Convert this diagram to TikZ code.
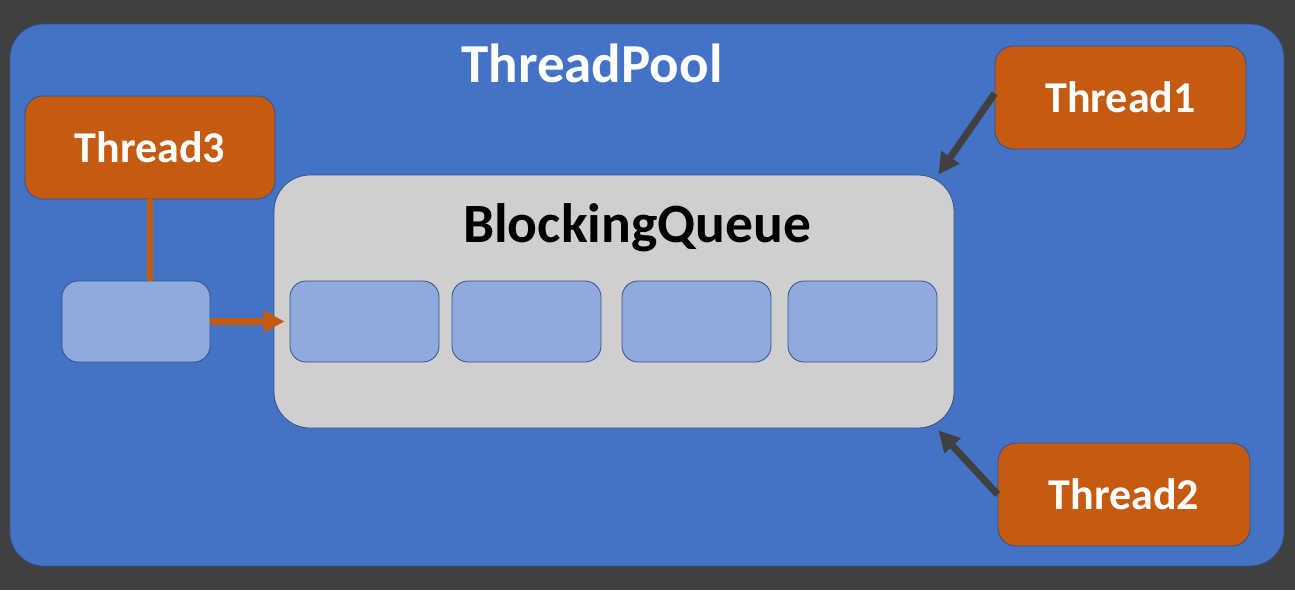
\documentclass[tikz,border=0pt]{standalone}
\usepackage{fontspec}
\setmainfont{Carlito}
\usepackage{tikz}
\usetikzlibrary{arrows.meta}
\definecolor{bgdark}{HTML}{404040}
\definecolor{poolblue}{HTML}{4472C4}
\definecolor{edgeblue}{HTML}{2F528F}
\definecolor{threadorange}{HTML}{C55A11}
\definecolor{queuegray}{HTML}{D0CECE}
\definecolor{cellblue}{HTML}{8FAADC}
\begin{document}
\begin{tikzpicture}[x=1pt,y=-1pt,
    box/.style={draw=edgeblue,line width=0.8pt,inner sep=0pt},
    thread/.style={box,fill=threadorange,rounded corners=18pt,
      minimum width=251pt,minimum height=103pt,text=white,
      font=\bfseries\fontsize{44}{50}\selectfont},
    cell/.style={box,fill=cellblue,rounded corners=16pt,
      minimum width=149pt,minimum height=81pt},
    darrow/.style={draw=bgdark,line width=7pt,-{Triangle[length=21pt,width=21pt]}},
    oarrow/.style={draw=threadorange,line width=7pt,-{Triangle[length=21pt,width=21pt]}}]

      \useasboundingbox (0,0) rectangle (1295,590);
      \fill[bgdark] (0,0) rectangle (1295,590);

      \node[box,fill=poolblue,rounded corners=34pt,minimum width=1274pt,minimum height=542pt] (p) at (647,295){};
      \node[text=white,font=\bfseries\fontsize{55}{62}\selectfont] (pt) at (592,63){ThreadPool};

      \node[box,fill=queuegray,rounded corners=36pt,minimum width=680pt,minimum height=253pt] (q) at (614,301.5){};
      \node[font=\bfseries\fontsize{55.5}{62}\selectfont] (qt) at (637,228){BlockingQueue};

      \node[cell] (c1) at (364.5,321.5){};
      \node[cell] (c2) at (526.5,321.5){};
      \node[cell] (c3) at (696.5,321.5){};
      \node[cell] (c4) at (862.5,321.5){};
      \node[cell,minimum width=148pt] (c0) at (136,321.5){};

      \node[thread,minimum width=250pt] (t3) at (150,147.5){Thread3};
      \node[thread] (t1) at (1120.5,97.5){Thread1};
      \node[thread,minimum width=252pt] (t2) at (1124,494.5){Thread2};

      \draw[threadorange,line width=6pt] (t3.south) -- (t3.south |- c0.north);
      \draw[oarrow,shorten >=5pt] (c0.east) -- (c1.west);
      \draw[darrow] ([yshift=4pt]t1.west) -- ([xshift=-16pt]q.north east);
      \draw[darrow] (t2.west) -- ([xshift=-16pt,yshift=-2pt]q.south east);
    \end{tikzpicture}
\end{document}
